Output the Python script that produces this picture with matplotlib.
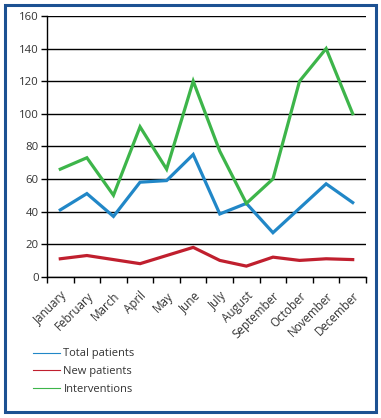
import matplotlib
matplotlib.use("Agg")
import matplotlib.pyplot as plt
from matplotlib.patches import Rectangle

months = ["January", "February", "March", "April", "May", "June", "July",
          "August", "September", "October", "November", "December"]
total_patients = [41, 51, 37, 58, 59, 75, 38.5, 45, 27, 42, 57, 45.5]
new_patients = [11, 13, 10.5, 8, 13, 18, 10, 6.5, 12, 10, 11, 10.5]
interventions = [66, 73, 50, 92, 66, 120, 77, 45, 60, 120, 140, 100]
yticks = [0, 20, 40, 60, 80, 100, 120, 140, 160]

series_names = ["Total patients", "New patients", "Interventions"]
colors = ["#2187c7", "#c01f2e", "#3db54a"]

plt.rcParams['font.family'] = ['Open Sans', 'DejaVu Sans']

W, H = 381, 418
fig = plt.figure(figsize=(W / 100, H / 100), dpi=100)
ax = fig.add_axes([47 / W, 1 - 276.7 / H, (366 - 47) / W, (276.7 - 16) / H])

x = list(range(len(months)))
for vals, c, name in zip([total_patients, new_patients, interventions], colors, series_names):
    ax.plot(x, vals, color=c, lw=2.3, solid_joinstyle='miter', label=name, zorder=3)

ax.set_xlim(-0.5, len(months) - 0.5)
ax.set_ylim(0, 160)
ax.set_yticks(yticks)
ax.set_yticklabels([str(v) for v in yticks], fontsize=8.2, color="#333333")
ax.yaxis.grid(True, color="black", lw=1.0)
ax.set_axisbelow(True)

ax.set_xticks([i - 0.5 for i in range(len(months) + 1)])
ax.set_xticklabels([])
ax.set_xticks(x, minor=True)
ax.set_xticklabels(months, minor=True, rotation=45, ha='right', va='top',
                   rotation_mode='anchor', fontsize=8.4, color="#333333")
ax.tick_params(axis='x', which='minor', length=0, pad=9)
ax.tick_params(axis='x', which='major', length=4, width=1, color='black')
ax.tick_params(axis='y', length=4, width=1, color='black', pad=2)

for s in ['top', 'right']:
    ax.spines[s].set_visible(False)
ax.spines['left'].set_color('black')
ax.spines['bottom'].set_color('black')
ax.spines['left'].set_linewidth(1.0)
ax.spines['bottom'].set_linewidth(1.0)

handles, labels = ax.get_legend_handles_labels()
leg = fig.legend(handles, labels, loc='upper left',
                 bbox_to_anchor=(29 / W, 1 - 344 / H), frameon=False,
                 fontsize=8.0, handlelength=2.4, handletextpad=0.3,
                 labelspacing=0.6, borderaxespad=0)
for line in leg.get_lines():
    line.set_linewidth(0.8)
for t in leg.get_texts():
    t.set_color("#333333")

fig.patches.append(Rectangle((4.5 / W, 1 - 411.5 / H), (375.5 - 4.5) / W, (411.5 - 4.5) / H,
                             transform=fig.transFigure, fill=False,
                             edgecolor="#1c5192", lw=2.2))

fig.savefig("out.png", dpi=100)
